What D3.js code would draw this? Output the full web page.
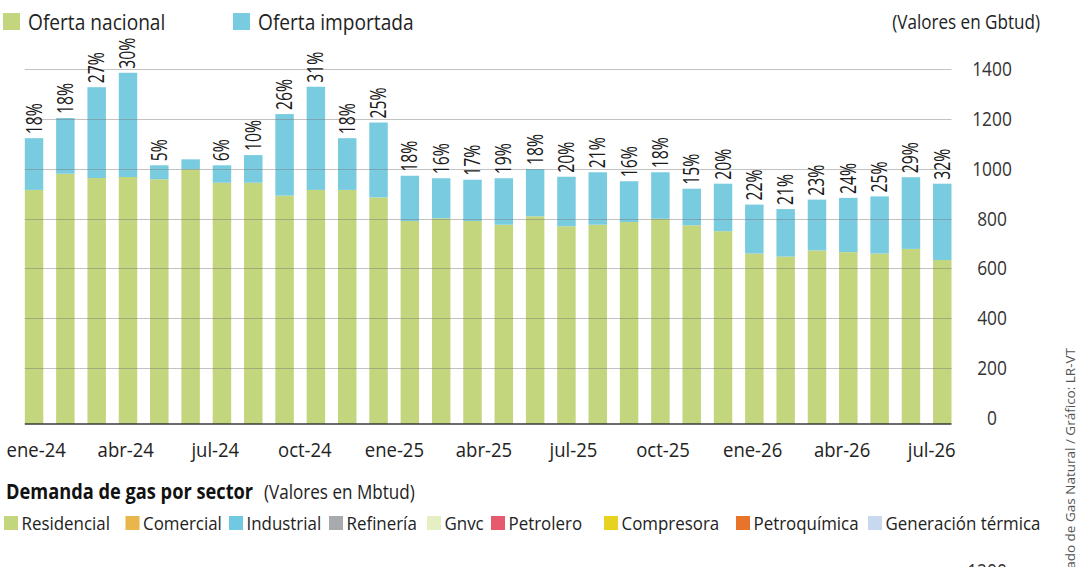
<!DOCTYPE html>
<html>
<head>
<meta charset="utf-8">
<script src="https://cdn.jsdelivr.net/npm/d3@7"></script>
<style>
  html, body { margin: 0; padding: 0; background: #fff; }
  svg { display: block; }
  text { font-family: "Open Sans", "Noto Sans", sans-serif; }
</style>
</head>
<body>
<svg id="chart" width="1080" height="567"></svg>
<script>
// ---------- DATA ----------
const months = ["ene-24","feb-24","mar-24","abr-24","may-24","jun-24","jul-24","ago-24","sep-24","oct-24","nov-24","dic-24",
                "ene-25","feb-25","mar-25","abr-25","may-25","jun-25","jul-25","ago-25","sep-25","oct-25","nov-25","dic-25",
                "ene-26","feb-26","mar-26","abr-26","may-26","jun-26"];
const ofertaNacional = [915,980,963,967,958,998,944,944,892,915,915,885,
                        790,801,790,775,809,769,775,786,799,773,749,659,
                        647,672,665,659,678,633];
const ofertaImportada = [208,224,365,419,56,40,70,111,328,415,208,301,
                         182,161,166,187,190,199,211,164,187,147,191,197,
                         191,204,218,230,288,307];
const pctImportada = [18,18,27,30,5,null,6,10,26,31,18,25,
                      18,16,17,19,18,20,21,16,18,15,20,22,
                      21,23,24,25,29,32];
const xTickLabels = ["ene-24","abr-24","jul-24","oct-24","ene-25","abr-25","jul-25","oct-25","ene-26","abr-26","jul-26"];
const yTicks = [0,200,400,600,800,1000,1200,1400];
const seriesNames = ["Oferta nacional","Oferta importada"];
const sectorNames = ["Residencial","Comercial","Industrial","Refinería","Gnvc","Petrolero","Compresora","Petroquímica","Generación térmica"];

// ---------- STYLE ----------
const GREEN = "#c3d67d", BLUE = "#79cbe0";
const sectorColors = ["#c3d67d","#e8b64c","#6fc9e0","#a9aaae","#e6efc4","#e65a6e","#e6d21f","#e8732b","#c8d8ee"];
const SX = 0.89; // horizontal squeeze to approximate a narrower humanist face

const svg = d3.select("#chart");

function txt(g, x, y, s, o = {}) {
  const t = g.append("text")
    .attr("transform", `translate(${x},${y}) rotate(${o.rot || 0}) scale(${o.sx || SX},1)`)
    .attr("font-size", o.size || 20)
    .attr("font-weight", o.weight || 400)
    .attr("fill", o.fill || "#222")
    .attr("text-anchor", o.anchor || "start")
    .text(s);
  if (o.baseline) t.attr("dominant-baseline", o.baseline);
  return t;
}

// ---------- SCALES ----------
const x = d3.scaleBand().domain(months).range([24.8, 951.5]).paddingInner(0.41).paddingOuter(0);
const xLab = d3.scalePoint().domain(xTickLabels).range([36.2, 931.7]);
const y = d3.scaleLinear().domain([0, 1400]).range([417.5, 69.3]);
const axisY = y(0) + 6.5;

// ---------- BARS ----------
const rows = months.map((m, i) => ({ month: m, nacional: ofertaNacional[i], importada: ofertaImportada[i], pct: pctImportada[i] }));
const stacked = d3.stack().keys(["nacional", "importada"])(rows);
const colors = { nacional: GREEN, importada: BLUE };

const gBars = svg.append("g");
stacked.forEach(layer => {
  gBars.append("g").attr("fill", colors[layer.key])
    .selectAll("rect").data(layer).join("rect")
    .attr("x", d => x(d.data.month))
    .attr("width", x.bandwidth())
    .attr("y", d => y(d[1]))
    .attr("height", d => (d[0] === 0 ? axisY : y(d[0])) - y(d[1]));
});

// ---------- GRID (drawn over bars, as in the source) ----------
const gGrid = svg.append("g");
gGrid.selectAll("line").data(yTicks.filter(v => v > 0)).join("line")
  .attr("x1", x.range()[0]).attr("x2", x.range()[1])
  .attr("y1", d => Math.round(y(d)) + 0.5).attr("y2", d => Math.round(y(d)) + 0.5)
  .attr("stroke", "rgba(120,120,120,0.45)").attr("stroke-width", 1);

// baseline
svg.append("line")
  .attr("x1", x.range()[0]).attr("x2", x.range()[1])
  .attr("y1", axisY).attr("y2", axisY)
  .attr("stroke", "#3a3a3a").attr("stroke-width", 1.6);

// ---------- Y LABELS (right) ----------
const gY = svg.append("g");
yTicks.forEach(v => txt(gY, 992, y(v) + 7, String(v), { size: 19.5, anchor: "middle", fill: "#333" }));

// ---------- X LABELS ----------
const gX = svg.append("g");
xTickLabels.forEach(l => txt(gX, xLab(l), 457, l, { size: 20.8, anchor: "middle", fill: "#222" }));

// ---------- PERCENT LABELS ----------
const gP = svg.append("g");
rows.forEach(r => {
  if (r.pct == null) return;
  const cx = x(r.month) + x.bandwidth() / 2;
  const top = y(r.nacional + r.importada);
  txt(gP, cx + 7.5, top - 4, r.pct + "%", { size: 21, rot: -90, sx: 0.75, fill: "#1a1a1a" });
});

// ---------- TOP LEGEND ----------
const gL = svg.append("g");
const legX = [3, 233];
seriesNames.forEach((n, i) => {
  gL.append("rect").attr("x", legX[i]).attr("y", 13).attr("width", 17).attr("height", 17)
    .attr("fill", i === 0 ? GREEN : BLUE);
  txt(gL, legX[i] + 25, 30, n, { size: 21.5, fill: "#222" });
});
txt(gL, 1040, 29, "(Valores en Gbtud)", { size: 19.2, anchor: "end", fill: "#222" });

// ---------- BOTTOM SECTION ----------
const gB = svg.append("g");
txt(gB, 6, 499, "Demanda de gas por sector", { size: 20.5, weight: 700, fill: "#111", sx: 0.89 });
txt(gB, 264, 499, "(Valores en Mbtud)", { size: 19.2, fill: "#222" });
const secX = [4, 125.5, 229, 329, 427, 491, 604, 736, 868];
sectorNames.forEach((n, i) => {
  gB.append("rect").attr("x", secX[i]).attr("y", 516).attr("width", 14).attr("height", 14).attr("fill", sectorColors[i]);
  txt(gB, secX[i] + 17.5, 530, n, { size: 19, fill: "#222" });
});

// partially visible tick of the next chart
txt(gB, 987, 578, "1200", { size: 19.5, anchor: "middle", fill: "#333" });

// source (vertical, cut by the frame)
txt(svg, 1075, 348, "Fuente: Gestor del Mercado de Gas Natural / Gráfico: LR-VT",
    { size: 13.5, rot: -90, anchor: "end", fill: "#555", sx: 1 });
</script>
</body>
</html>
